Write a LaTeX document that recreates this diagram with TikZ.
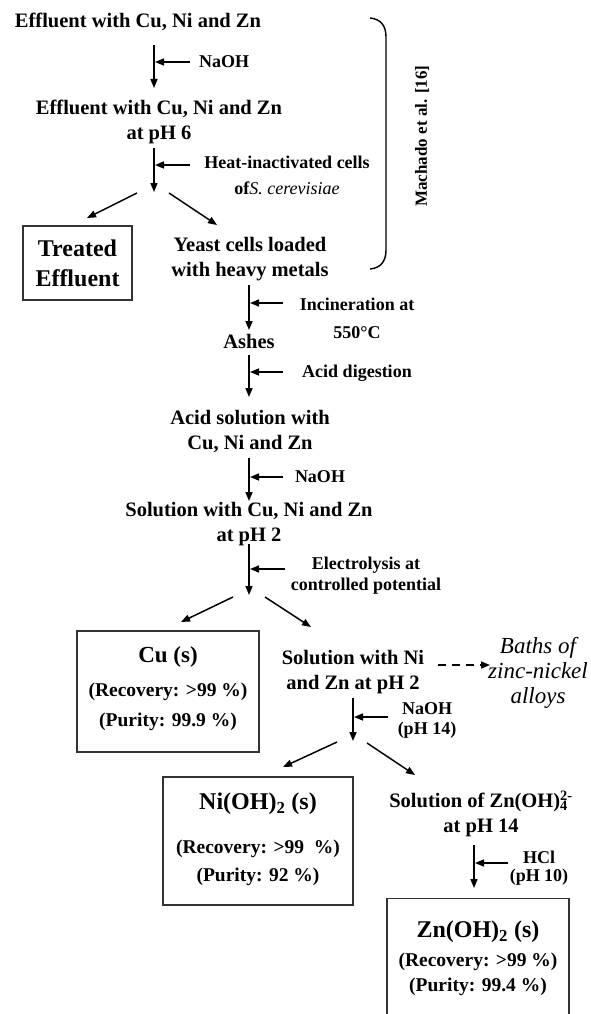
\documentclass[tikz,border=0pt]{standalone}
\usepackage{fontspec}
\setmainfont{Liberation Serif}
\usetikzlibrary{arrows.meta}
\begin{document}
\begin{tikzpicture}[x=1pt,y=-1pt,
  txt/.style={font=\fontsize{20.5}{25}\selectfont\bfseries, align=center, inner sep=0pt},
  lbl/.style={font=\fontsize{18}{26}\selectfont\bfseries, align=center, inner sep=0pt},
  big/.style={font=\fontsize{24}{30}\selectfont\bfseries, align=center, inner sep=0pt},
  res/.style={font=\fontsize{19.5}{24}\selectfont\bfseries, inner sep=0pt},
  box/.style={draw=black!80, line width=1.4pt, inner sep=0pt},
  arr/.style={line width=1.5pt, -{Triangle[length=9pt,width=7pt]}},
]
\useasboundingbox (0,0) rectangle (590,1014);
\fill[white] (0,0) rectangle (590,1014);
\clip (0,0) rectangle (590,1014);

% --- step 1
\node[txt] (t1) at (138,22) {Effluent with Cu, Ni and Zn};
\coordinate (a1s) at (154,45); \coordinate (a1e) at (154,88); \coordinate (a1j) at (155,62);
\node[lbl, anchor=west] (naoh1) at (199,62) {NaOH};
\draw[arr] (a1s) -- (a1e);
\draw[arr] ([xshift=-9pt]naoh1.west) -- (a1j);

\node[txt] (t2) at (159,122) {Effluent with Cu, Ni and Zn\\at pH 6};
\coordinate (a2s) at (154,148); \coordinate (a2e) at (154,192); \coordinate (a2j) at (155,165);
\coordinate (a2f) at (190,165);
\node[lbl] (heat) at (287,175) {Heat-inactivated cells\\of{\mdseries\itshape S. cerevisiae}};
\draw[arr] (a2s) -- (a2e);
\draw[arr] (a2f) -- (a2j);

\coordinate (s1a) at (137,193); \coordinate (s1b) at (87,218);
\coordinate (s1c) at (169,193); \coordinate (s1d) at (217,225);
\draw[arr] (s1a) -- (s1b);
\draw[arr] (s1c) -- (s1d);

\node[box, big, minimum width=109pt, minimum height=74pt] (treated) at (77.5,263) {Treated\\Effluent};
\node[txt] (yeast) at (250,259) {Yeast cells loaded\\with heavy metals};

% brace
\draw[line width=1.4pt] (370,18) .. controls (381,19) and (386,26) .. (386,37) -- (386,250) .. controls (386,261) and (381,268) .. (370,269);
\node[font=\fontsize{17}{20}\selectfont\bfseries, inner sep=0pt, rotate=90] (mach) at (422,136) {Machado et al. [16]};

% --- incineration
\coordinate (a3s) at (249,285); \coordinate (a3e) at (249,330); \coordinate (a3j) at (250,303);
\coordinate (a3f) at (283,303);
\node[lbl, font=\fontsize{18}{28}\selectfont\bfseries] (incin) at (357,318) {Incineration at\\550°C};
\draw[arr] (a3s) -- (a3e);
\draw[arr] (a3f) -- (a3j);
\node[txt] (ashes) at (249,341) {Ashes};

\coordinate (a4s) at (249,355); \coordinate (a4e) at (249,397); \coordinate (a4j) at (250,372);
\coordinate (a4f) at (283,372);
\node[lbl] (acid) at (357,373) {Acid digestion};
\draw[arr] (a4s) -- (a4e);
\draw[arr] (a4f) -- (a4j);

\node[txt] (acidsol) at (250,431) {Acid solution with\\Cu, Ni and Zn};

\coordinate (a5s) at (249,458); \coordinate (a5e) at (249,501); \coordinate (a5j) at (250,477);
\coordinate (a5f) at (283,477);
\node[lbl] (naoh2) at (320,477) {NaOH};
\draw[arr] (a5s) -- (a5e);
\draw[arr] (a5f) -- (a5j);

\node[txt] (solcu) at (249,524) {Solution with Cu, Ni and Zn\\at pH 2};

\coordinate (a6s) at (249,544); \coordinate (a6e) at (249,595); \coordinate (a6j) at (250,569);
\coordinate (a6f) at (285,569);
\node[lbl, font=\fontsize{18}{21}\selectfont\bfseries] (elec) at (366,576) {Electrolysis at\\controlled potential};
\draw[arr] (a6s) -- (a6e);
\draw[arr] (a6f) -- (a6j);

\coordinate (s2a) at (233,597); \coordinate (s2b) at (181,622);
\coordinate (s2c) at (265,597); \coordinate (s2d) at (311,627);
\draw[arr] (s2a) -- (s2b);
\draw[arr] (s2c) -- (s2d);

% Cu box
\node[box, minimum width=182pt, minimum height=121pt] (cubox) at (168,691.5) {};
\node[big, font=\fontsize{23}{28}\selectfont\bfseries] (cu) at (168,657) {Cu (s)};
\node[res] (curec) at (168,692) {(Recovery: >99 \%)};
\node[res] (cupur) at (168,722) {(Purity: 99.9 \%)};

\node[txt] (solni) at (353,672) {Solution with Ni\\and Zn at pH 2};
\coordinate (d1) at (438,665); \coordinate (d2) at (490,665);
\draw[arr, dash pattern=on 8pt off 6pt] (d1) -- (d2);
\node[font=\fontsize{23}{25}\selectfont\itshape, align=center, inner sep=0pt] (baths) at (538,673) {Baths of\\zinc-nickel\\alloys};

\coordinate (a7s) at (353,698); \coordinate (a7e) at (353,741); \coordinate (a7j) at (354,717);
\coordinate (a7f) at (388,717);
\node[lbl, font=\fontsize{18}{20}\selectfont\bfseries] (naoh3) at (427,720) {NaOH\\(pH 14)};
\draw[arr] (a7s) -- (a7e);
\draw[arr] (a7f) -- (a7j);

\coordinate (s3a) at (337,742); \coordinate (s3b) at (283,767);
\coordinate (s3c) at (367,743); \coordinate (s3d) at (415,775);
\draw[arr] (s3a) -- (s3b);
\draw[arr] (s3c) -- (s3d);

% Ni box
\node[box, minimum width=190pt, minimum height=128pt] (nibox) at (258,841) {};
\node[big] (ni) at (258,804) {Ni(OH)\textsubscript{2} (s)};
\node[res] (nirec) at (258,849) {(Recovery: >99~~\%)};
\node[res] (nipur) at (258,877) {(Purity: 92 \%)};

\node[txt] (znsol) at (481,814) {Solution of Zn(OH)\rlap{\textsubscript{4}}\textsuperscript{2-}\\at pH 14};

\coordinate (a8s) at (474,845); \coordinate (a8e) at (474,888); \coordinate (a8j) at (475,863);
\coordinate (a8f) at (508,863);
\node[lbl, font=\fontsize{18}{18}\selectfont\bfseries] (hcl) at (539,868) {HCl\\(pH 10)};
\draw[arr] (a8s) -- (a8e);
\draw[arr] (a8f) -- (a8j);

% Zn box (cut off at the bottom edge)
\node[box, minimum width=182pt, minimum height=140pt, anchor=north] (znbox) at (478,898) {};
\node[big] (zn) at (478,932) {Zn(OH)\textsubscript{2} (s)};
\node[res] (znrec) at (478,962) {(Recovery: >99 \%)};
\node[res] (znpur) at (478,987) {(Purity: 99.4 \%)};
\end{tikzpicture}
\end{document}
